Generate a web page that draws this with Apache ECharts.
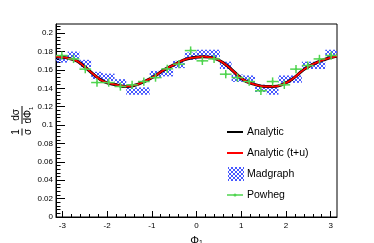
<!DOCTYPE html>
<html><head><meta charset="utf-8">
<script src="https://cdn.jsdelivr.net/npm/echarts@6/dist/echarts.min.js"></script>
<style>html,body{margin:0;padding:0;background:#fff}#c{width:374px;height:243px}</style>
</head><body><div id="c"></div>
<script>
// ---- data ----
const binCenters = [-3.011,-2.749,-2.487,-2.225,-1.963,-1.702,-1.440,-1.178,-0.916,-0.654,-0.393,-0.131,
                     0.131, 0.393, 0.654, 0.916, 1.178, 1.440, 1.702, 1.963, 2.225, 2.487, 2.749, 3.011];
const madgraph = [0.172,0.176,0.167,0.154,0.152,0.146,0.137,0.137,0.155,0.157,0.166,0.175,
                  0.178,0.178,0.165,0.151,0.150,0.140,0.137,0.150,0.150,0.165,0.165,0.178];
const madgraphErr = [0.004,0.004,0.004,0.004,0.004,0.004,0.004,0.004,0.004,0.004,0.004,0.004,
                     0.004,0.004,0.004,0.004,0.004,0.004,0.004,0.004,0.004,0.004,0.004,0.004];
const powheg = [0.1757,0.1720,0.1609,0.1463,0.1463,0.1420,0.1438,0.1474,0.1517,0.1612,0.1663,0.1811,
                0.1699,0.1720,0.1554,0.1517,0.1474,0.1373,0.1474,0.1438,0.1609,0.1648,0.1720,0.1757];
const powhegErr = [0.0045,0.0045,0.0045,0.0045,0.0045,0.0045,0.0045,0.0045,0.0045,0.0045,0.0045,0.0045,
                   0.0045,0.0045,0.0045,0.0045,0.0045,0.0045,0.0045,0.0045,0.0045,0.0045,0.0045,0.0045];
const curvePhi = [-3.14,-2.73,-2.51,-2.29,-2.07,-1.78,-1.58,-1.40,-1.17,-0.95,-0.73,-0.51,-0.28,-0.06,
                  0.16,0.39,0.61,0.83,1.05,1.28,1.54,1.72,1.94,2.17,2.39,2.61,2.84,3.10,3.14];
const analytic = [0.1745,0.1710,0.1637,0.1547,0.1474,0.1438,0.1420,0.1431,0.1474,0.1528,0.1601,0.1655,0.1710,0.1735,
                  0.1745,0.1728,0.1674,0.1583,0.1492,0.1446,0.1420,0.1420,0.1446,0.1511,0.1601,0.1663,0.1710,0.1746,0.1748];
const analyticTU = [0.1745,0.1710,0.1637,0.1547,0.1474,0.1438,0.1420,0.1431,0.1474,0.1528,0.1601,0.1655,0.1710,0.1735,
                    0.1745,0.1728,0.1674,0.1583,0.1492,0.1446,0.1420,0.1420,0.1446,0.1511,0.1601,0.1663,0.1710,0.1746,0.1748];
const xMajorTicks = [-3,-2,-1,0,1,2,3];
const yMajorTicks = [0,0.02,0.04,0.06,0.08,0.1,0.12,0.14,0.16,0.18,0.2];
const BIN_HALF = 0.1309;

const xMinorTicks = []; for (let i = -15; i <= 15; i++) xMinorTicks.push(+(i*0.2).toFixed(2));
const yMinorTicks = []; for (let i = 0; i <= 52; i++) yMinorTicks.push(+(i*0.004).toFixed(3));

// hatch pattern (pixel X lattice)
const pc = document.createElement('canvas'); pc.width = 4; pc.height = 4;
const pctx = pc.getContext('2d');
pctx.fillStyle = '#4658ff';
[[0,0],[1,1],[2,2],[3,3],[3,0],[2,1],[1,2],[0,3]].forEach(p => pctx.fillRect(p[0], p[1], 1, 1));
const hatch = {image: pc, repeat: 'repeat'};

const GREEN = '#4fd44f';
const FONT = 'Liberation Sans, Arial, sans-serif';

const chart = echarts.init(document.getElementById('c'), null, {renderer: 'canvas'});
chart.setOption({
  animation: false,
  backgroundColor: '#fff',
  grid: {left: 56, right: 37, top: 24, height: 193, outerBoundsMode: 'none', containLabel: false,
         show: true, borderColor: '#000', borderWidth: 1, backgroundColor: 'transparent'},
  xAxis: [{
    type: 'value', min: -Math.PI, max: Math.PI, position: 'bottom',
    axisLine: {onZero: false, lineStyle: {color: '#000', width: 1}},
    axisTick: {inside: true, length: 6, customValues: xMajorTicks, lineStyle: {color: '#000'}},
    axisLabel: {customValues: xMajorTicks, fontSize: 8, color: '#000', fontFamily: FONT, margin: 5},
    splitLine: {show: false},
    name: '{a|Φ}{b|1}', nameLocation: 'middle', nameGap: 17,
    nameTextStyle: {rich: {a: {fontSize: 11, fontFamily: FONT, color: '#000'}, b: {fontSize: 7, fontFamily: FONT, color: '#000', verticalAlign: 'bottom', padding: [6,0,0,0]}}}
  }, {
    type: 'value', min: -Math.PI, max: Math.PI, position: 'bottom', gridIndex: 0,
    axisLine: {show: false, onZero: false},
    axisTick: {inside: true, length: 3, customValues: xMinorTicks, lineStyle: {color: '#000'}},
    axisLabel: {show: false}, splitLine: {show: false}
  }],
  yAxis: [{
    type: 'value', min: 0, max: 0.21, position: 'left',
    axisLine: {show: true, onZero: false, lineStyle: {color: '#000', width: 1}},
    axisTick: {show: true, inside: true, length: 9, customValues: yMajorTicks, lineStyle: {color: '#000'}},
    axisLabel: {customValues: yMajorTicks, fontSize: 8, color: '#000', fontFamily: FONT, margin: 3, formatter: v => String(v)},
    splitLine: {show: false}
  }, {
    type: 'value', min: 0, max: 0.21, position: 'left',
    axisLine: {show: false, onZero: false},
    axisTick: {show: true, inside: true, length: 4.5, customValues: yMinorTicks, lineStyle: {color: '#000'}},
    axisLabel: {show: false}, splitLine: {show: false}
  }],
  series: [{
    name: 'Madgraph', type: 'custom', xAxisIndex: 0, yAxisIndex: 0,
    data: binCenters.map((x, i) => [x, madgraph[i], madgraphErr[i]]),
    renderItem: (params, api) => {
      const x = api.value(0), y = api.value(1), e = api.value(2);
      const p1 = api.coord([x - BIN_HALF, y + e]);
      const p2 = api.coord([x + BIN_HALF, y - e]);
      return {type: 'rect', shape: {x: p1[0], y: p1[1], width: p2[0]-p1[0], height: p2[1]-p1[1]},
              style: {fill: hatch, stroke: null}};
    }, z: 2
  }, {
    name: 'Analytic', type: 'line', smooth: true, symbol: 'none',
    data: curvePhi.map((x, i) => [x, analytic[i]]),
    lineStyle: {color: '#000', width: 3}, z: 3
  }, {
    name: 'Analytic (t+u)', type: 'line', smooth: true, symbol: 'none',
    data: curvePhi.map((x, i) => [x, analyticTU[i]]),
    lineStyle: {color: '#ff0000', width: 1.8}, z: 4
  }, {
    name: 'Powheg', type: 'custom',
    data: binCenters.map((x, i) => [x, powheg[i], powhegErr[i]]),
    renderItem: (params, api) => {
      const x = api.value(0), y = api.value(1), e = api.value(2);
      const l = api.coord([x - BIN_HALF, y]), r = api.coord([x + BIN_HALF, y]);
      const t = api.coord([x, y + e]), b = api.coord([x, y - e]);
      const c = api.coord([x, y]);
      const st = {stroke: GREEN, lineWidth: 1.5, fill: null};
      return {type: 'group', children: [
        {type: 'line', shape: {x1: l[0], y1: l[1], x2: r[0], y2: r[1]}, style: st},
        {type: 'line', shape: {x1: t[0], y1: t[1], x2: b[0], y2: b[1]}, style: st},
        {type: 'circle', shape: {cx: c[0], cy: c[1], r: 1.2}, style: {fill: GREEN}}
      ]};
    }, z: 5
  }],
  graphic: [
    // y-axis title
    {type: 'group', x: 22, y: 119, rotation: Math.PI/2, children: [
      {type: 'text', x: -13, y: -1, style: {text: '1', fontSize: 10, fontFamily: FONT, fill: '#000', align: 'center', verticalAlign: 'bottom'}},
      {type: 'line', shape: {x1: -16.5, y1: 0, x2: -9.5, y2: 0}, style: {stroke: '#000', lineWidth: 1}},
      {type: 'text', x: -13, y: 1, style: {text: 'σ', fontSize: 10, fontFamily: FONT, fill: '#000', align: 'center', verticalAlign: 'top'}},
      {type: 'text', x: 4, y: -1, style: {text: 'dσ', fontSize: 10, fontFamily: FONT, fill: '#000', align: 'center', verticalAlign: 'bottom'}},
      {type: 'line', shape: {x1: -5, y1: 0, x2: 13, y2: 0}, style: {stroke: '#000', lineWidth: 1}},
      {type: 'text', x: 4, y: 1, style: {text: '{a|dΦ}{b|1}', fontSize: 10, fontFamily: FONT, fill: '#000', align: 'center', verticalAlign: 'top',
        rich: {a: {fontSize: 10, fontFamily: FONT, fill: '#000'}, b: {fontSize: 6, fontFamily: FONT, fill: '#000', padding: [5,0,0,0]}}}}
    ]},
    // legend
    {type: 'line', shape: {x1: 227, y1: 132, x2: 243, y2: 132}, style: {stroke: '#000', lineWidth: 2}},
    {type: 'text', x: 247, y: 132, style: {text: 'Analytic', fontSize: 10.5, fontFamily: FONT, fill: '#000', verticalAlign: 'middle'}},
    {type: 'line', shape: {x1: 227, y1: 153, x2: 243, y2: 153}, style: {stroke: '#ff0000', lineWidth: 2}},
    {type: 'text', x: 247, y: 153, style: {text: 'Analytic (t+u)', fontSize: 10.5, fontFamily: FONT, fill: '#000', verticalAlign: 'middle'}},
    {type: 'rect', shape: {x: 228, y: 167, width: 16, height: 14}, style: {fill: hatch}},
    {type: 'text', x: 247, y: 174, style: {text: 'Madgraph', fontSize: 10.5, fontFamily: FONT, fill: '#000', verticalAlign: 'middle'}},
    {type: 'line', shape: {x1: 227, y1: 195, x2: 243, y2: 195}, style: {stroke: GREEN, lineWidth: 1.5}},
    {type: 'circle', shape: {cx: 235, cy: 195, r: 1.5}, style: {fill: GREEN}},
    {type: 'text', x: 247, y: 195, style: {text: 'Powheg', fontSize: 10.5, fontFamily: FONT, fill: '#000', verticalAlign: 'middle'}}
  ]
});
</script></body></html>
